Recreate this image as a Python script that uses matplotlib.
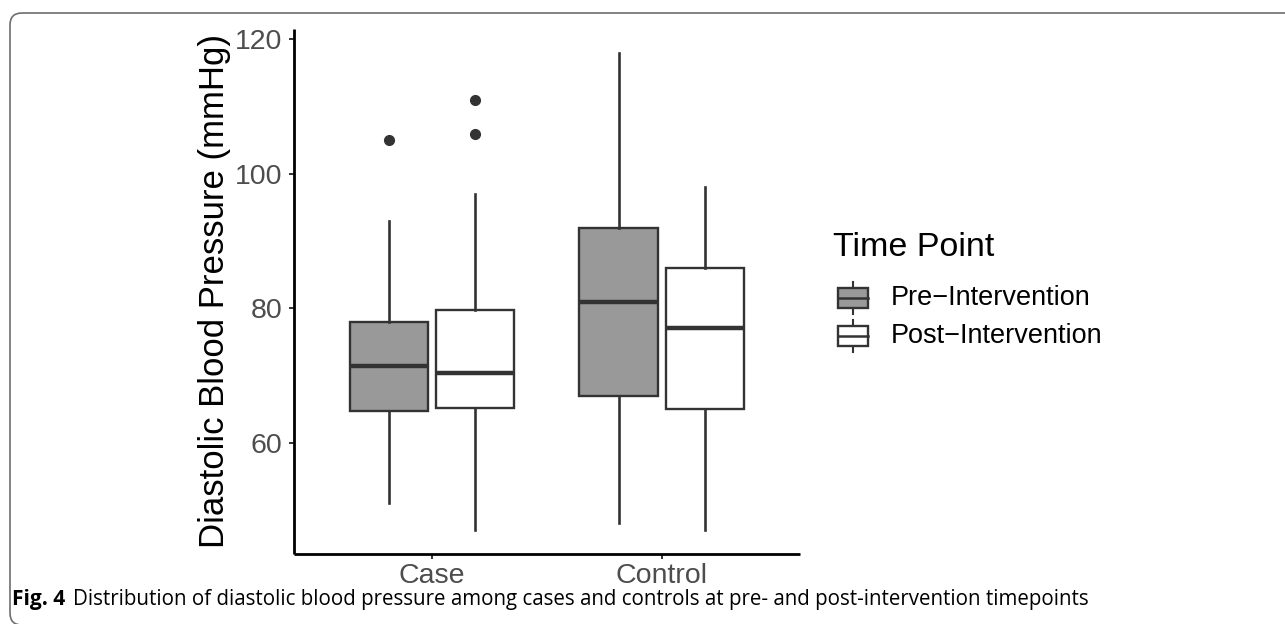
import matplotlib
matplotlib.use("Agg")
import matplotlib.pyplot as plt
from matplotlib.patches import Rectangle, FancyBboxPatch
from matplotlib.lines import Line2D

# ---------------- data ----------------
groups = ["Case", "Control"]
timepoints = ["Pre\u2212Intervention", "Post\u2212Intervention"]
fills = ["#999999", "#FFFFFF"]

# five-number summaries: [whislo, q1, med, q3, whishi]
case_pre = [51, 64.7, 71.4, 78.0, 93]
case_post = [47, 65.1, 70.4, 79.7, 97]
control_pre = [48, 67.0, 81.0, 92.0, 118]
control_post = [47, 65.0, 77.0, 86.0, 98]
case_pre_out = [105]
case_post_out = [106, 111]
control_pre_out = []
control_post_out = []

ylabel = "Diastolic Blood Pressure (mmHg)"
legend_title = "Time Point"
yticks = [60, 80, 100, 120]
caption_bold = "Fig. 4"
caption_text = ("Distribution of diastolic blood pressure among cases and controls "
                "at pre- and post-intervention timepoints")

summaries = [[case_pre, case_post], [control_pre, control_post]]
outliers = [[case_pre_out, case_post_out], [control_pre_out, control_post_out]]

# ---------------- figure ----------------
W, H = 1285, 624
fig = plt.figure(figsize=(W / 100, H / 100), dpi=100)
plt.rcParams['font.family'] = ['Liberation Sans', 'DejaVu Sans']

def px_ax(l, t, r, b):
    return [l / W, 1 - b / H, (r - l) / W, (b - t) / H]

ax = fig.add_axes(px_ax(294, 29, 799.5, 554))

edge = "#333333"
dodge = 0.1875
bw = 0.34
stats, positions, facecolors = [], [], []
for gi, g in enumerate(groups):
    for ti, t in enumerate(timepoints):
        s = summaries[gi][ti]
        stats.append(dict(whislo=s[0], q1=s[1], med=s[2], q3=s[3], whishi=s[4],
                          fliers=outliers[gi][ti], label=""))
        positions.append(gi + (ti - 0.5) * 2 * dodge)
        facecolors.append(fills[ti])

bp = ax.bxp(stats, positions=positions, widths=bw, patch_artist=True,
            showcaps=False, manage_ticks=False,
            boxprops=dict(edgecolor=edge, linewidth=1.7),
            medianprops=dict(color=edge, linewidth=3.2, solid_capstyle='butt'),
            whiskerprops=dict(color=edge, linewidth=1.9),
            flierprops=dict(marker='o', markerfacecolor=edge, markeredgecolor=edge,
                            markersize=7.0, linestyle='none'))
for patch, fc in zip(bp['boxes'], facecolors):
    patch.set_facecolor(fc)

# scales (ggplot-like expansion)
allvals = []
for gi in range(len(groups)):
    for ti in range(len(timepoints)):
        allvals += [summaries[gi][ti][0], summaries[gi][ti][4]] + outliers[gi][ti]
lo, hi = min(allvals), max(allvals)
pad = 0.05 * (hi - lo)
ax.set_ylim(lo - pad, hi + pad)
ax.set_xlim(-0.6, len(groups) - 1 + 0.6)

ax.set_xticks(range(len(groups)))
ax.set_xticklabels(groups)
ax.set_yticks(yticks)
ax.tick_params(axis='both', colors=edge, length=3.8, width=1.4, labelsize=20.5,
               labelcolor="#4D4D4D")
ax.tick_params(axis='y', pad=4.5)
ax.tick_params(axis='x', pad=2.5)
for sp in ['top', 'right']:
    ax.spines[sp].set_visible(False)
for sp in ['left', 'bottom']:
    ax.spines[sp].set_linewidth(2.0)
    ax.spines[sp].set_color('black')
    ax.spines[sp].set_capstyle('butt')

ax.set_ylabel(ylabel, fontsize=25, color='black', va='baseline')
ax.yaxis.set_label_coords((224 - 294) / 505.5, 0.5)

# ---------------- legend (drawn in figure pixel space) ----------------
ov = fig.add_axes([0, 0, 1, 1], zorder=5)
ov.set_xlim(0, W)
ov.set_ylim(H, 0)
ov.axis('off')
ov.patch.set_alpha(0)

ov.text(833, 247, legend_title, fontsize=24.5, ha='left', va='center', color='black')
row_y = [298, 336]
for ti, t in enumerate(timepoints):
    cy = row_y[ti]
    kx0, kx1 = 838, 868
    cx = (kx0 + kx1) / 2
    ov.add_line(Line2D([cx, cx], [cy - 16, cy + 16], color=edge, lw=1.5))
    ov.add_patch(Rectangle((kx0, cy - 10), kx1 - kx0, 20, facecolor=fills[ti],
                           edgecolor=edge, lw=1.7, zorder=3))
    ov.add_line(Line2D([kx0, kx1], [cy, cy], color=edge, lw=1.8, zorder=4))
    ov.text(891, cy, t, fontsize=19.5, ha='left', va='center', color='black')

# ---------------- frame and caption ----------------
frame = FancyBboxPatch((10, 13), 1400, 612, boxstyle="round,pad=0,rounding_size=12",
                       facecolor='none', edgecolor='#6e6e6e', lw=1.2, clip_on=False)
ov.add_patch(frame)

cap_base = 605
tb = ov.text(12, cap_base, caption_bold, fontsize=12.5, fontweight='bold', ha='left',
             va='baseline', color='black', family=['Open Sans', 'DejaVu Sans'])
tc = ov.text(73, cap_base, caption_text, fontsize=12.5, ha='left', va='baseline',
             color='black', family=['Open Sans', 'DejaVu Sans'])
# fit caption width to the reference's extent
fig.canvas.draw()
r = fig.canvas.get_renderer()
wpx = tc.get_window_extent(r).width
tc.set_fontsize(12.5 * (1095 - 73) / wpx)
wb = tb.get_window_extent(r).width
tb.set_fontsize(12.5 * (65 - 12) / wb)

fig.savefig("out.png", dpi=100)
